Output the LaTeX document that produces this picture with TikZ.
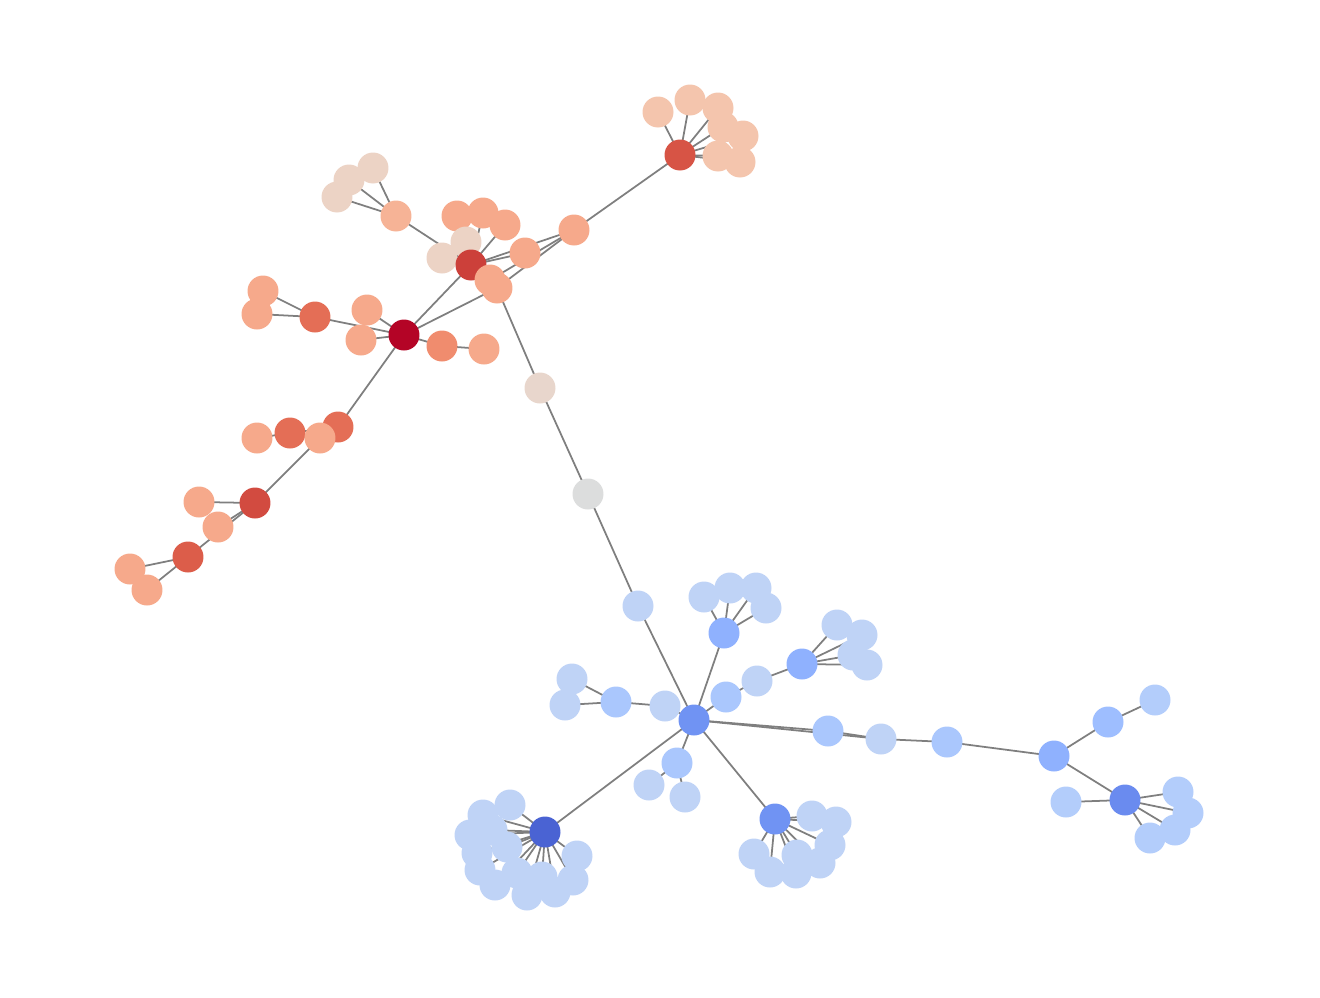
\documentclass[tikz,border=0pt]{standalone}
\usetikzlibrary{backgrounds}
\definecolor{cA}{HTML}{B40426}
\definecolor{cB}{HTML}{CC403A}
\definecolor{cC}{HTML}{D75445}
\definecolor{cF}{HTML}{D24B40}
\definecolor{cG}{HTML}{DC5D4A}
\definecolor{cE}{HTML}{E46E56}
\definecolor{cO}{HTML}{F08C6E}
\definecolor{cS}{HTML}{F6A98B}
\definecolor{cSL}{HTML}{F6B396}
\definecolor{cP}{HTML}{F4C5AD}
\definecolor{cBe}{HTML}{ECD3C5}
\definecolor{cH}{HTML}{E8D6CC}
\definecolor{cGr}{HTML}{DCDDDD}
\definecolor{bL}{HTML}{BFD3F6}
\definecolor{bM}{HTML}{AAC7FD}
\definecolor{bN}{HTML}{8FB1FE}
\definecolor{bD}{HTML}{7093F3}
\definecolor{bK}{HTML}{4A63D3}
\definecolor{bW}{HTML}{6A8BEF}
\definecolor{bT}{HTML}{B3CDFB}
\definecolor{bR}{HTML}{9EBEFF}
\definecolor{edgec}{HTML}{7F7F7F}
\tikzset{
  nd/.style={circle, draw=none, inner sep=0pt, minimum size=0.62cm},
  ed/.style={draw=edgec, line width=1pt},
}
\begin{document}
\begin{tikzpicture}[x=0.02cm, y=-0.02cm]
\useasboundingbox (0,0) rectangle (1320,998);
% ---------- red part ----------
\node[nd, fill=cP] (c1) at (658,112) {};
\node[nd, fill=cP] (c2) at (690,100) {};
\node[nd, fill=cP] (c3) at (718,108) {};
\node[nd, fill=cP] (c4) at (723,127) {};
\node[nd, fill=cP] (c5) at (743,136) {};
\node[nd, fill=cP] (c6) at (718,156) {};
\node[nd, fill=cP] (c7) at (740,162) {};
\node[nd, fill=cC] (c) at (680,155) {};
\node[nd, fill=cS] (m) at (574,230) {};
\node[nd, fill=cBe] (u1) at (337,197) {};
\node[nd, fill=cBe] (u2) at (349,180) {};
\node[nd, fill=cBe] (u3) at (373,168) {};
\node[nd, fill=cSL] (u) at (396,216) {};
\node[nd, fill=cS] (b1) at (457,216) {};
\node[nd, fill=cS] (b2) at (483,213) {};
\node[nd, fill=cS] (b3) at (505,225) {};
\node[nd, fill=cBe] (b4) at (442,258) {};
\node[nd, fill=cBe] (b5) at (466,242) {};
\node[nd, fill=cS] (b6) at (525,253) {};
\node[nd, fill=cB] (b) at (471,265) {};
\node[nd, fill=cS] (b7) at (490,280) {};
\node[nd, fill=cS] (b8) at (497,288) {};
\node[nd, fill=cS] (a1) at (367,310) {};
\node[nd, fill=cS] (a2) at (361,340) {};
\node[nd, fill=cS] (a31) at (263,291) {};
\node[nd, fill=cS] (a32) at (257,314) {};
\node[nd, fill=cE] (a3) at (315,317) {};
\node[nd, fill=cO] (a4) at (442,346) {};
\node[nd, fill=cS] (a41) at (484,349) {};
\node[nd, fill=cA] (a) at (404,335) {};
\node[nd, fill=cE] (e1) at (338,427) {};
\node[nd, fill=cS] (e4) at (257,438) {};
\node[nd, fill=cE] (e3) at (290,433) {};
\node[nd, fill=cS] (e2) at (320,438) {};
\node[nd, fill=cS] (f1) at (199,502) {};
\node[nd, fill=cF] (f) at (255,503) {};
\node[nd, fill=cS] (f2) at (218,527) {};
\node[nd, fill=cG] (g) at (188,557) {};
\node[nd, fill=cS] (g1) at (130,569) {};
\node[nd, fill=cS] (g2) at (147,590) {};
% ---------- bridge ----------
\node[nd, fill=cH] (h1) at (540,388) {};
\node[nd, fill=cGr] (h2) at (588,494) {};
\node[nd, fill=bL] (h3) at (638,606) {};
% ---------- blue part ----------
\node[nd, fill=bL] (p1) at (704,597) {};
\node[nd, fill=bL] (p2) at (730,588) {};
\node[nd, fill=bL] (p3) at (756,588) {};
\node[nd, fill=bL] (p4) at (766,608) {};
\node[nd, fill=bN] (p) at (724,633) {};
\node[nd, fill=bL] (q3) at (837,625) {};
\node[nd, fill=bL] (q4) at (862,635) {};
\node[nd, fill=bL] (q5) at (853,655) {};
\node[nd, fill=bL] (q6) at (867,665) {};
\node[nd, fill=bN] (q) at (802,664) {};
\node[nd, fill=bL] (q2) at (757,681) {};
\node[nd, fill=bM] (q1) at (726,697) {};
\node[nd, fill=bL] (r2) at (572,679) {};
\node[nd, fill=bL] (r3) at (565,705) {};
\node[nd, fill=bM] (r) at (616,702) {};
\node[nd, fill=bL] (r1) at (665,706) {};
\node[nd, fill=bD] (d) at (694,720) {};
\node[nd, fill=bL] (s1) at (649,785) {};
\node[nd, fill=bL] (s2) at (685,797) {};
\node[nd, fill=bM] (s) at (677,763) {};
\node[nd, fill=bL] (k1) at (510,805) {};
\node[nd, fill=bL] (k2) at (483,815) {};
\node[nd, fill=bL] (k3) at (470,835) {};
\node[nd, fill=bL] (k4) at (477,853) {};
\node[nd, fill=bL] (k5) at (480,870) {};
\node[nd, fill=bL] (k6) at (495,885) {};
\node[nd, fill=bL] (k7) at (527,895) {};
\node[nd, fill=bL] (k8) at (555,892) {};
\node[nd, fill=bL] (k9) at (573,880) {};
\node[nd, fill=bL] (k10) at (577,856) {};
\node[nd, fill=bL] (k11) at (507,847) {};
\node[nd, fill=bL] (k12) at (517,873) {};
\node[nd, fill=bL] (k13) at (542,877) {};
\node[nd, fill=bL] (k14) at (492,830) {};
\node[nd, fill=bK] (k) at (545,832) {};
\node[nd, fill=bL] (l1) at (812,816) {};
\node[nd, fill=bL] (l2) at (836,822) {};
\node[nd, fill=bL] (l3) at (830,845) {};
\node[nd, fill=bL] (l4) at (820,863) {};
\node[nd, fill=bL] (l8) at (797,855) {};
\node[nd, fill=bL] (l5) at (796,873) {};
\node[nd, fill=bL] (l6) at (770,872) {};
\node[nd, fill=bL] (l7) at (754,854) {};
\node[nd, fill=bD] (l) at (775,819) {};
\node[nd, fill=bM] (t1) at (828,731) {};
\node[nd, fill=bL] (t2) at (881,739) {};
\node[nd, fill=bM] (t3) at (947,742) {};
\node[nd, fill=bN] (t4) at (1054,756) {};
\node[nd, fill=bR] (t5) at (1108,722) {};
\node[nd, fill=bT] (t6) at (1155,700) {};
\node[nd, fill=bT] (w1) at (1066,802) {};
\node[nd, fill=bT] (w2) at (1178,792) {};
\node[nd, fill=bT] (w3) at (1188,813) {};
\node[nd, fill=bT] (w4) at (1175,830) {};
\node[nd, fill=bT] (w5) at (1150,838) {};
\node[nd, fill=bW] (w) at (1125,800) {};
% ---------- edges ----------
\begin{scope}[on background layer]
\foreach \x in {c1,c2,c3,c4,c5,c6,c7,m} \draw[ed] (c.center) -- (\x.center);
\foreach \x in {b,b7,b8} \draw[ed] (m.center) -- (\x.center);
\foreach \x in {u1,u2,u3,b} \draw[ed] (u.center) -- (\x.center);
\foreach \x in {b1,b2,b3,b4,b5,b6,b7} \draw[ed] (b.center) -- (\x.center);
\foreach \x in {b,b8,a1,a2,a3,a4,e1} \draw[ed] (a.center) -- (\x.center);
\foreach \x in {a31,a32} \draw[ed] (a3.center) -- (\x.center);
\draw[ed] (a4.center) -- (a41.center);
\draw[ed] (e1.center) -- (e2.center);
\draw[ed] (e1.center) -- (e3.center);
\draw[ed] (e3.center) -- (e4.center);
\draw[ed] (e2.center) -- (f.center);
\foreach \x in {f1,f2,g} \draw[ed] (f.center) -- (\x.center);
\foreach \x in {g1,g2} \draw[ed] (g.center) -- (\x.center);
\draw[ed] (b8.center) -- (h1.center);
\draw[ed] (h1.center) -- (h2.center);
\draw[ed] (h2.center) -- (h3.center);
\draw[ed] (h3.center) -- (d.center);
\foreach \x in {p,q1,r1,s,k,l,t1,t2} \draw[ed] (d.center) -- (\x.center);
\foreach \x in {p1,p2,p3,p4} \draw[ed] (p.center) -- (\x.center);
\draw[ed] (q1.center) -- (q2.center);
\draw[ed] (q2.center) -- (q.center);
\foreach \x in {q3,q4,q5,q6} \draw[ed] (q.center) -- (\x.center);
\draw[ed] (r1.center) -- (r.center);
\foreach \x in {r2,r3} \draw[ed] (r.center) -- (\x.center);
\foreach \x in {s1,s2} \draw[ed] (s.center) -- (\x.center);
\foreach \x in {k1,k2,k3,k4,k5,k6,k7,k8,k9,k10,k11,k12,k13,k14} \draw[ed] (k.center) -- (\x.center);
\foreach \x in {l1,l2,l3,l4,l5,l6,l7,l8} \draw[ed] (l.center) -- (\x.center);
\draw[ed] (t1.center) -- (t2.center);
\draw[ed] (t2.center) -- (t3.center);
\draw[ed] (t3.center) -- (t4.center);
\draw[ed] (t4.center) -- (t5.center);
\draw[ed] (t5.center) -- (t6.center);
\draw[ed] (t4.center) -- (w.center);
\foreach \x in {w1,w2,w3,w4,w5} \draw[ed] (w.center) -- (\x.center);
\end{scope}
\end{tikzpicture}
\end{document}
